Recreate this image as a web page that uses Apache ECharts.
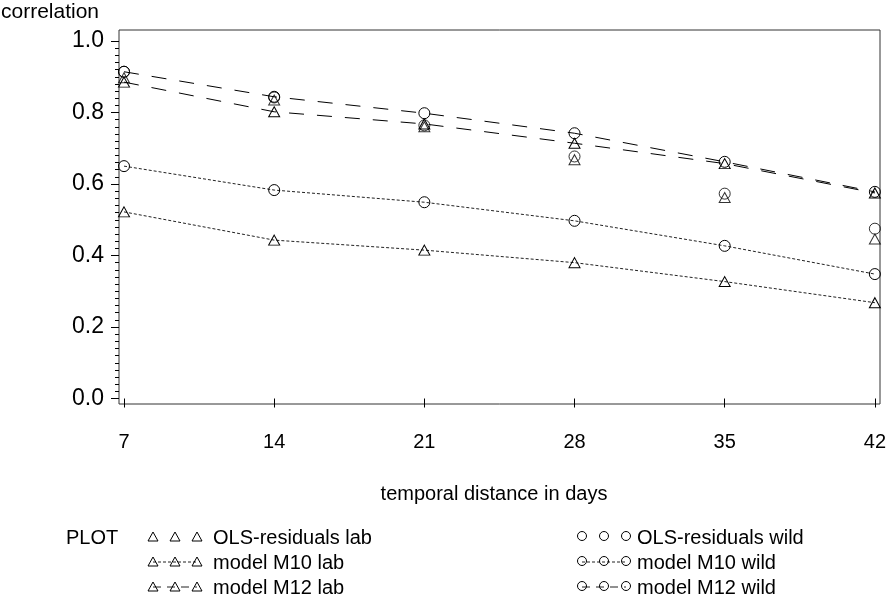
<!DOCTYPE html>
<html>
<head>
<meta charset="utf-8">
<script src="https://cdn.jsdelivr.net/npm/echarts@6/dist/echarts.min.js"></script>
<style>
  html, body { margin: 0; padding: 0; background: #fff; }
  #chart { width: 889px; height: 605px; }
</style>
</head>
<body>
<div id="chart"></div>
<script>
// values
var days = [7, 14, 21, 28, 35, 42];
var olsLab  = [0.897, 0.835, 0.760, 0.668, 0.562, 0.446];
var olsWild = [0.914, 0.842, 0.764, 0.677, 0.573, 0.475];
var m10Lab  = [0.522, 0.443, 0.415, 0.380, 0.327, 0.268];
var m10Wild = [0.650, 0.583, 0.549, 0.497, 0.427, 0.348];
var m12Lab  = [0.885, 0.802, 0.768, 0.714, 0.657, 0.575];
var m12Wild = [0.914, 0.844, 0.798, 0.742, 0.662, 0.578];

var FONT = '"Liberation Sans", Arial, sans-serif';

function pairs(vals) {
  return days.map(function (d, i) { return [d, vals[i]]; });
}

var markStyle = { color: 'none', borderColor: '#000', borderWidth: 1 };
var triSize = [11, 10];
var cirSize = 11;

function series(name, vals, sym, line) {
  var s = {
    name: name,
    type: line ? 'line' : 'scatter',
    data: pairs(vals),
    symbol: sym,
    symbolSize: sym == 'triangle' ? triSize : cirSize,
    itemStyle: markStyle,
    emphasis: { disabled: true },
    silent: true,
    z: 3
  };
  if (line) {
    s.showSymbol = true;
    s.lineStyle = line;
  }
  return s;
}

var dotted = { color: '#222', width: 1, type: [3, 2] };
var dashed = { color: '#000', width: 1, type: [15, 13] };

// legend drawn by hand (three markers per entry)
var legendEls = [];
function tri(x, y, s) {
  return { type: 'polygon', shape: { points: [[x, y - s], [x - s, y + s * 0.8], [x + s, y + s * 0.8]] },
           style: { fill: 'none', stroke: '#000', lineWidth: 1 } };
}
function cir(x, y, r) {
  return { type: 'circle', shape: { cx: x, cy: y, r: r }, style: { fill: 'none', stroke: '#000', lineWidth: 1 } };
}
function legendRow(x0, y, sym, dash, label, tx) {
  var xs = [x0, x0 + 22, x0 + 44];
  if (dash) {
    legendEls.push({ type: 'line', shape: { x1: xs[0], y1: y - 1, x2: xs[2], y2: y - 1 },
                     style: { stroke: '#222', lineWidth: 1, lineDash: dash } });
  }
  xs.forEach(function (x) { legendEls.push(sym == 'tri' ? tri(x, y - 1, 5) : cir(x, y - 2, 4.5)); });
  legendEls.push({ type: 'text', x: tx, y: y, style: { text: label, font: '20px ' + FONT, fill: '#000', verticalAlign: 'middle' } });
}
legendEls.push({ type: 'text', x: 66, y: 538, style: { text: 'PLOT', font: '20px ' + FONT, fill: '#000', verticalAlign: 'middle' } });
legendRow(153, 538, 'tri', null, 'OLS-residuals lab', 213);
legendRow(153, 563, 'tri', [3, 2], 'model M10 lab', 213);
legendRow(153, 588, 'tri', [8, 6], 'model M12 lab', 213);
legendRow(582, 538, 'cir', null, 'OLS-residuals wild', 637);
legendRow(582, 563, 'cir', [3, 2], 'model M10 wild', 637);
legendRow(582, 588, 'cir', [8, 6], 'model M12 wild', 637);

legendEls.push({ type: 'text', x: 1, y: 12, style: { text: 'correlation', font: '21px ' + FONT, fill: '#000', verticalAlign: 'middle' } });
legendEls.push({ type: 'text', x: 494, y: 494, style: { text: 'temporal distance in days', font: '20px ' + FONT, fill: '#000', align: 'center', verticalAlign: 'middle' } });

var chart = echarts.init(document.getElementById('chart'), null, { renderer: 'canvas' });
chart.setOption({
  animation: false,
  backgroundColor: '#fff',
  grid: [
    { left: 124, right: 14, top: 41, bottom: 206.5 },
    { left: 119, right: 9, top: 30, bottom: 201, show: true, borderColor: '#333', borderWidth: 1, backgroundColor: 'transparent' }
  ],
  xAxis: [
    {
      gridIndex: 0, type: 'value', min: 7, max: 42, interval: 7, offset: 5.5,
      axisLine: { show: false },
      axisTick: { show: true, inside: false, length: 9, lineStyle: { color: '#000' } },
      axisLabel: { margin: 28, fontSize: 20, fontFamily: FONT, color: '#000' },
      splitLine: { show: false }
    },
    { gridIndex: 1, type: 'value', show: false, min: 0, max: 1 }
  ],
  yAxis: [
    {
      gridIndex: 0, type: 'value', min: 0, max: 1, interval: 0.2, offset: 5,
      axisLine: { show: false },
      axisTick: { show: true, inside: false, length: 8, lineStyle: { color: '#000' } },
      minorTick: { show: true, splitNumber: 10, length: 4, lineStyle: { color: '#000' } },
      axisLabel: { margin: 15, fontSize: 23, fontFamily: FONT, color: '#000',
                   formatter: function (v) { return v.toFixed(1); } },
      splitLine: { show: false }
    },
    { gridIndex: 1, type: 'value', show: false, min: 0, max: 1 }
  ],
  series: [
    series('OLS-residuals lab', olsLab, 'triangle', null),
    series('model M10 lab', m10Lab, 'triangle', dotted),
    series('model M12 lab', m12Lab, 'triangle', dashed),
    series('OLS-residuals wild', olsWild, 'circle', null),
    series('model M10 wild', m10Wild, 'circle', dotted),
    series('model M12 wild', m12Wild, 'circle', dashed)
  ],
  graphic: legendEls
});
</script>
</body>
</html>
